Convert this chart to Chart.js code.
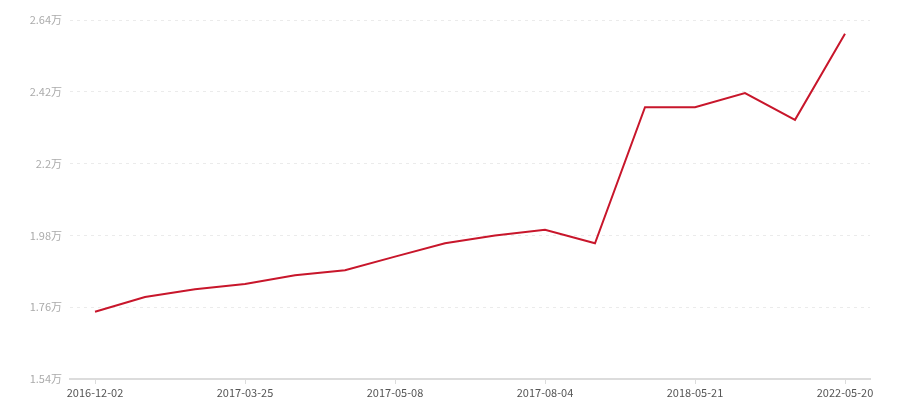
<!DOCTYPE html>
<html>
<head>
<meta charset="utf-8">
<script src="https://cdn.jsdelivr.net/npm/chart.js@4/dist/chart.umd.min.js"></script>
<style>
  html, body { margin:0; padding:0; background:#fff; }
  #wrap { width:900px; height:400px; }
</style>
</head>
<body>
<div id="wrap"><canvas id="priceChart" width="900" height="400"></canvas></div>
<script>
// dates (only every 3rd one is shown on the axis)
const dates = [
  '2016-12-02','2017-01-10','2017-02-18','2017-03-25','2017-04-08','2017-04-22',
  '2017-05-08','2017-06-12','2017-07-10','2017-08-04','2017-10-15','2018-01-20',
  '2018-05-21','2019-06-10','2020-09-15','2022-05-20'
];
// values in 万
const values = [
  1.746, 1.791, 1.815, 1.831, 1.858, 1.873,
  1.915, 1.956, 1.980, 1.997, 1.956, 2.373,
  2.373, 2.416, 2.334, 2.598
];
const yTicks = [1.54, 1.76, 1.98, 2.2, 2.42, 2.64];

const font = { family: '"Noto Sans CJK SC", "Noto Sans", sans-serif', size: 11 };

new Chart(document.getElementById('priceChart').getContext('2d'), {
  type: 'line',
  data: { labels: dates, datasets: [{
    data: values, borderColor: '#c8162b', borderWidth: 2,
    pointRadius: 0, tension: 0, fill: false
  }]},
  options: {
    responsive: false, animation: false,
    layout: { padding: { top: 20, right: 30, bottom: 0, left: 0 } },
    plugins: { legend: { display: false }, tooltip: { enabled: false } },
    scales: {
      x: {
        offset: true,
        grid: {
          drawOnChartArea: false, tickLength: 5, offset: false,
          color: c => (c.index % 3 === 0 ? '#dcdcdc' : 'rgba(0,0,0,0)')
        },
        border: { color: '#dcdcdc', width: 2 },
        ticks: {
          autoSkip: false, maxRotation: 0, color: '#555', font, padding: 2,
          callback: (v, i) => (i % 3 === 0 ? dates[i] : '')
        },
        afterFit: s => { s.height = 21; }
      },
      y: {
        min: yTicks[0], max: yTicks[yTicks.length - 1],
        afterBuildTicks: s => { s.ticks = yTicks.map(v => ({ value: v })); },
        grid: { color: c => (c.index === 0 ? 'rgba(0,0,0,0)' : '#ebebeb'), drawTicks: false, lineWidth: 1 },
        border: { display: false, dash: [3, 4] },
        ticks: {
          color: '#aaa', font, padding: 8,
          callback: v => (+v.toFixed(2)) + '万'
        },
        afterFit: s => { s.width = 70; }
      }
    }
  }
});
</script>
</body>
</html>
